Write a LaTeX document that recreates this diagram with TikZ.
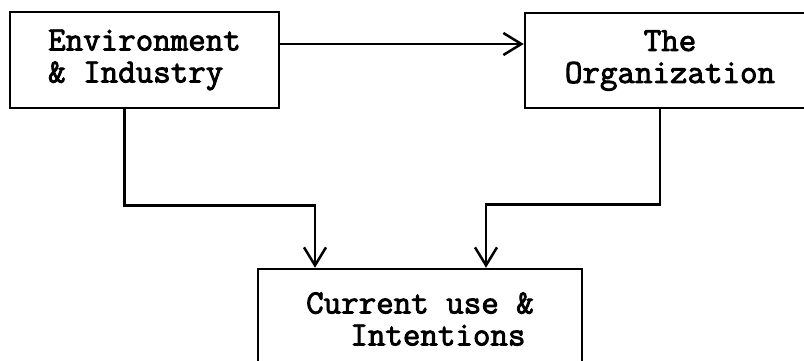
\documentclass[tikz,border=0pt]{standalone}
\usepackage{fontspec}
\newfontfamily\boxfont[FakeBold=2.6]{Latin Modern Mono}
\usepackage{tikz}
\usetikzlibrary{positioning,arrows.meta,calc}
\tikzset{
  >={Straight Barb[length=18pt,width=22pt]},
  factbox/.style={draw,line width=2.5pt,inner sep=0pt,
    font=\boxfont\fontsize{34}{32}\selectfont},
  link/.style={->,line width=2.5pt},
}

\begin{document}
\begin{tikzpicture}[x=1pt,y=1pt]
  \path[use as bounding box,clip] (0,0) rectangle (804,360);
  \node[factbox,align=left,minimum width=269pt,minimum height=96pt]
    (env) at (144.5,300) {Environment\\\& Industry};
  \node[factbox,align=center,minimum width=290pt,minimum height=95pt]
    (org) at (670,299.5) {The\\Organization};
  \node[factbox,align=left,minimum width=324pt,minimum height=100pt]
    (cur) at (420,41) {Current use \&\\\hspace*{1.3em}Intentions};
  \draw[link] ([yshift=16pt]env.east) -- ([yshift=16pt]env.east -| org.west);
  \draw[link] ([xshift=-20pt]env.south) -- ++(0,-96) -| ([xshift=-105pt]cur.north);
  \draw[link] ([xshift=-10pt]org.south) -- ++(0,-95) -| ([xshift=66pt]cur.north);
\end{tikzpicture}
\end{document}
